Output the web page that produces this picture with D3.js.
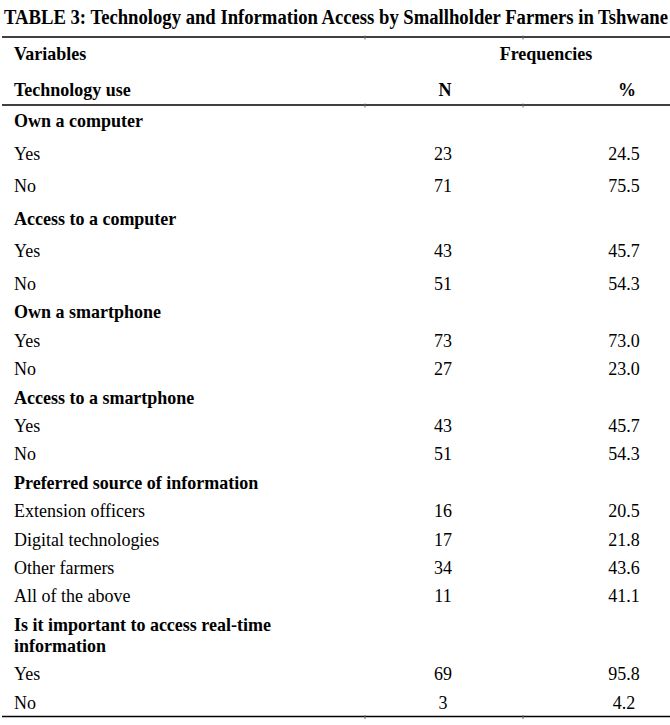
<!DOCTYPE html>
<html>
<head>
<meta charset="utf-8">
<script src="https://cdn.jsdelivr.net/npm/d3@7"></script>
<style>
  body { margin: 0; background: #fff; }
  text { font-family: "Liberation Serif", "Times New Roman", serif; fill: #000; }
</style>
</head>
<body>
<div id="table"></div>
<script>
/* CONSTANTS AND GLOBALS */
const width = 670,
  height = 725,
  fontSize = 18,
  stretchY = 1.08, // the scanned glyphs are a bit taller than plain Times
  labelX = 14,
  nX = 443,
  pctX = 624;

/* DATA */
const title = "TABLE 3: Technology and Information Access by Smallholder Farmers in Tshwane";
const sections = [
  "Own a computer",
  "Access to a computer",
  "Own a smartphone",
  "Access to a smartphone",
  "Preferred source of information",
  "Is it important to access real-time information"
];
const itemLabels = [
  ["Yes", "No"],
  ["Yes", "No"],
  ["Yes", "No"],
  ["Yes", "No"],
  ["Extension officers", "Digital technologies", "Other farmers", "All of the above"],
  ["Yes", "No"]
];
const countN = [
  [23, 71],
  [43, 51],
  [73, 27],
  [43, 51],
  [16, 17, 34, 11],
  [69, 3]
];
const percent = [
  [24.5, 75.5],
  [45.7, 54.3],
  [73.0, 23.0],
  [45.7, 54.3],
  [20.5, 21.8, 43.6, 41.1],
  [95.8, 4.2]
];

// flatten into table rows; the last heading wraps onto two lines
let rows = [];
sections.forEach((s, i) => {
  const lines = s.startsWith("Is it") ? ["Is it important to access real-time", "information"] : [s];
  rows.push({ kind: "head", lines });
  itemLabels[i].forEach((lab, j) => {
    rows.push({ kind: "item", lines: [lab], n: countN[i][j], pct: percent[i][j] });
  });
});

// baselines: first block is a bit taller than the rest
const lineGap = 21;
let yPos = 127;
rows.forEach((r, i) => {
  if (i > 0) {
    const prev = rows[i - 1];
    yPos += (i < 6 ? 32.6 : 28.4) + (prev.lines.length - 1) * lineGap;
  }
  r.y = yPos;
});

const place = (x, y) => `translate(${x},${y}) scale(1,${stretchY})`;

const svg = d3.select("#table")
  .append("svg")
  .attr("width", width)
  .attr("height", height);

// title, fitted to the full width like the reference
const t = svg.append("text")
  .attr("transform", place(4, 24))
  .attr("font-weight", "bold")
  .attr("font-size", fontSize)
  .text(title);
const tLen = t.node().getComputedTextLength();
t.attr("font-size", fontSize * 664 / tLen);

// header rows
const header = [
  { text: "Variables", x: labelX, y: 60, anchor: "start" },
  { text: "Frequencies", x: 546, y: 60, anchor: "middle" },
  { text: "Technology use", x: labelX, y: 96, anchor: "start" },
  { text: "N", x: 445, y: 96, anchor: "middle" },
  { text: "%", x: 627, y: 96, anchor: "middle" }
];
svg.selectAll("text.hdr")
  .data(header)
  .join("text")
  .attr("class", "hdr")
  .attr("transform", d => place(d.x, d.y))
  .attr("text-anchor", d => d.anchor)
  .attr("font-weight", "bold")
  .attr("font-size", fontSize)
  .text(d => d.text);

// body labels
const lab = svg.selectAll("text.lab")
  .data(rows)
  .join("text")
  .attr("class", "lab")
  .attr("transform", d => place(labelX, d.y))
  .attr("font-size", fontSize)
  .attr("font-weight", d => d.kind === "head" ? "bold" : "normal");
lab.selectAll("tspan")
  .data(d => d.lines)
  .join("tspan")
  .attr("x", 0)
  .attr("dy", (d, i) => i === 0 ? 0 : lineGap / stretchY)
  .text(d => d);

const items = rows.filter(d => d.kind === "item");
svg.selectAll("text.n")
  .data(items)
  .join("text")
  .attr("class", "n")
  .attr("transform", d => place(nX, d.y))
  .attr("text-anchor", "middle")
  .attr("font-size", fontSize)
  .text(d => d.n);
svg.selectAll("text.pct")
  .data(items)
  .join("text")
  .attr("class", "pct")
  .attr("transform", d => place(pctX, d.y))
  .attr("text-anchor", "middle")
  .attr("font-size", fontSize)
  .text(d => d3.format(".1f")(d.pct));

// horizontal rules with the small column ticks
const ruleY = [37, 105, rows[rows.length - 1].y + 8];
svg.selectAll("line.rule")
  .data(ruleY)
  .join("line")
  .attr("class", "rule")
  .attr("x1", 2)
  .attr("x2", width)
  .attr("y1", d => d)
  .attr("y2", d => d)
  .attr("stroke", "#000")
  .attr("stroke-width", 1.5);

const ticks = d3.cross(ruleY, [365, 523]);
svg.selectAll("line.tick")
  .data(ticks)
  .join("line")
  .attr("class", "tick")
  .attr("x1", d => d[1])
  .attr("x2", d => d[1])
  .attr("y1", d => d[0] - 1.5)
  .attr("y2", d => d[0] + 2.5)
  .attr("stroke", "#666")
  .attr("stroke-width", 1);
</script>
</body>
</html>
